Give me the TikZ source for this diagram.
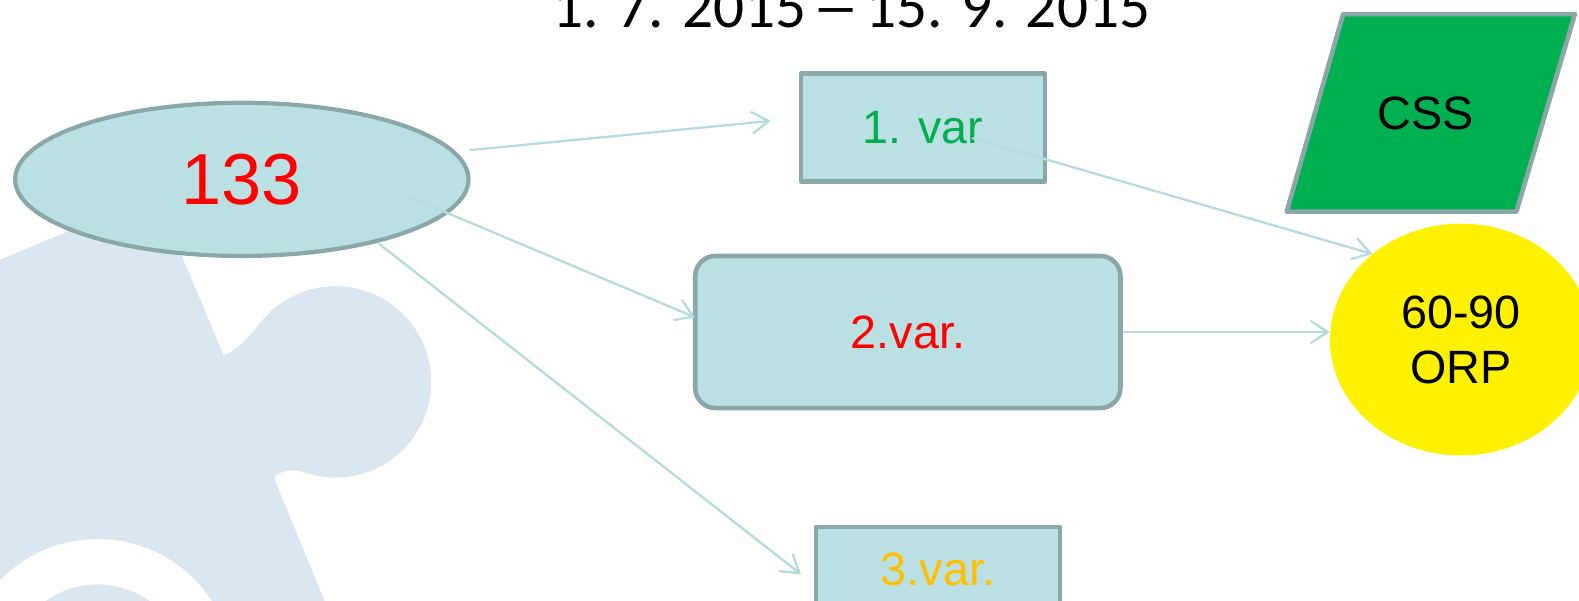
\documentclass[tikz,border=0pt]{standalone}
\usepackage{fontspec}
\usepackage{graphicx}
\setmainfont{Liberation Sans}
\newfontfamily\titlefont{Carlito}
\usetikzlibrary{arrows.meta,shapes.geometric}
\definecolor{shapefill}{HTML}{BBE0E3}
\definecolor{shapeedge}{HTML}{8BA8A9}
\definecolor{arrowcol}{HTML}{B4DCDF}
\definecolor{puzzle}{HTML}{DAE6F0}
\definecolor{vargreen}{HTML}{00B050}
\definecolor{varorange}{HTML}{FFC000}
\begin{document}
\begin{tikzpicture}[x=1.0076bp,y=-1.0076bp,
  lbl/.style={font=\fontsize{46.9}{55.4}\selectfont},
  box/.style={draw=shapeedge, line width=4.6bp, line join=round, fill=shapefill, inner sep=0pt},
  conn/.style={draw=arrowcol, line width=2.3bp, -{Straight Barb[length=17bp,width=22bp]}}]
\useasboundingbox (0bp,0bp) rectangle (1579bp,-601bp);
% background puzzle piece
\fill[puzzle] (-10,262) -- (155,193) -- (222,353)
  .. controls (236,347) and (248,334) .. (257,322)
  arc[start angle=143.1, end angle=-110.3, radius=95.72bp]
  .. controls (292,465) and (269,468) .. (273,477)
  -- (340,640) -- (-10,640) -- cycle;
\fill[white, even odd rule] (97,670) circle[radius=136bp] (97,670) circle[radius=90.7bp];
% title
\node[font=\titlefont\fontsize{61.5}{70}\selectfont, anchor=base, inner sep=0pt] (title) at (845,27) {1. 7. 2015 \makebox[0.498em][c]{\scalebox{1.55}[1]{–}} 15. 9. 2015};
% shapes
\node[box, ellipse, line width=4.2bp, minimum width=453.4bp, minimum height=153.2bp, text=red, font=\fontsize{72.5}{80}\selectfont] (e) at (240,178) {133};
\node[box, lbl, rectangle, minimum width=243.8bp, minimum height=107.8bp, text=vargreen] (b1) at (916,126.5) {1. var};
\node[box, lbl, rectangle, rounded corners=20.2bp, minimum width=425.2bp, minimum height=152.1bp, text=red] (b2) at (901,329.5) {2.var.};
\node[box, lbl, rectangle, minimum width=243.8bp, minimum height=84.6bp, text=varorange] (b3) at (931,565) {3.var.};
\filldraw[draw=shapeedge, line width=4.6bp, line join=round, fill=vargreen] (1333,14) -- (1563,14) -- (1505,210) -- (1277,210) -- cycle;
\node[lbl, inner sep=0pt] (css) at (1415,113) {CSS};
\node[lbl, ellipse, fill=yellow, inner sep=0pt, minimum width=262bp, minimum height=231.7bp, align=center] (y) at (1450,337) {60-90\\ORP};
% connectors
\coordinate (s1) at (466,149);
\coordinate (t1) at (765,120);
\coordinate (s2) at (405,195);
\coordinate (t2) at (690,315);
\coordinate (t3) at (795,570);
\coordinate (s4) at (965,137);
\draw[conn] (s1) -- (t1);
\draw[conn] (s2) -- (t2);
\draw[conn] (e.-25) -- (t3);
\draw[conn] (s4) -- (y.136);
\draw[conn] (b2.east) -- (b2.east -| y.west);
\end{tikzpicture}
\end{document}
